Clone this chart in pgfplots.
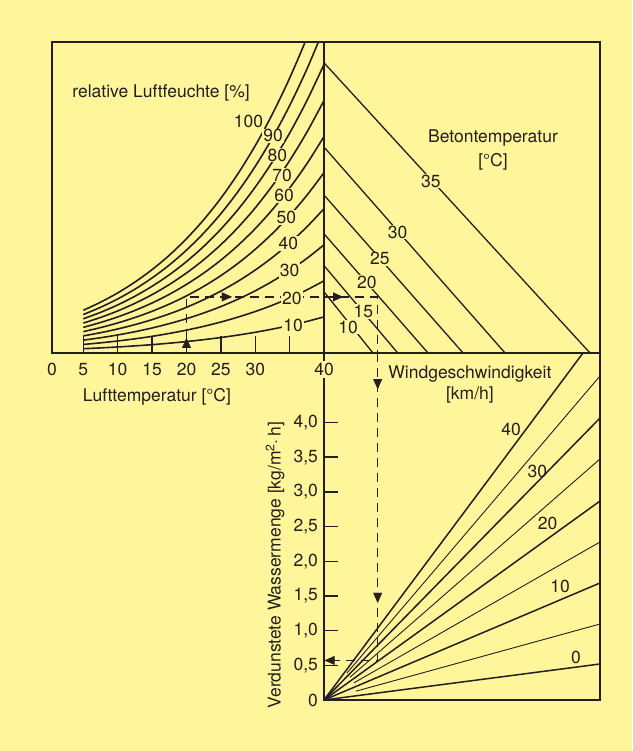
\documentclass[border=0pt]{standalone}
\usepackage{fontspec}
\setmainfont{TeX Gyre Heros}
\usepackage{pgfplots}
\usepackage{pgfplotstable}
\pgfplotsset{compat=1.18}
\usetikzlibrary{arrows.meta}

\definecolor{bg}{RGB}{255,245,155}
\definecolor{ink}{RGB}{35,31,32}

% vapour pressure of the air [hPa] along each humidity curve
\pgfplotstableread{
T     r10   r20   r30   r40   r50   r60   r70   r80   r90   r100
5     0.87  1.74  2.62  3.49  4.36  5.23  6.10  6.98  7.85  8.72
7.5   1.04  2.07  3.11  4.14  5.18  6.22  7.25  8.29  9.32  10.36
10    1.23  2.45  3.68  4.90  6.13  7.36  8.58  9.81  11.03 12.26
12.5  1.45  2.89  4.34  5.79  7.24  8.68  10.13 11.58 13.02 14.47
15    1.70  3.40  5.11  6.81  8.51  10.21 11.91 13.62 15.32 17.02
17.5  2.00  3.99  5.99  7.98  9.98  11.97 13.97 15.96 17.96 19.95
20    2.33  4.67  7.00  9.33  11.66 14.00 16.33 18.66 21.00 23.33
22.5  2.72  5.44  8.16  10.88 13.59 16.31 19.03 21.75 24.47 27.19
25    3.16  6.32  9.48  12.64 15.80 18.96 22.12 25.28 28.44 31.60
27.5  3.66  7.33  10.99 14.65 18.31 21.98 25.64 29.30 32.97 36.63
30    4.23  8.47  12.70 16.94 21.17 25.40 29.64 33.87 38.11 42.34
32.5  4.88  9.76  14.64 19.52 24.41 29.29 34.17 39.05 43.93 48.81
35    5.61  11.23 16.84 22.45 28.06 33.68 39.29 44.90 50.52 56.13
37.5  6.44  12.88 19.31 25.75 32.19 38.63 45.07 51.50 57.94 64.38
40    7.37  14.74 22.10 29.47 36.84 44.21 51.57 58.94 66.31 73.68
}\humid

\tikzset{
  hum/.style={ink, line width=1.6pt, smooth},
  beton/.style={ink, line width=1.3pt},
  wthick/.style={ink, line width=1.5pt},
  wthin/.style={ink, line width=0.9pt},
  dsh/.style={ink, line width=1.3pt, dash pattern=on 9pt off 6pt},
  arr/.style={ink, line width=0.1pt, -{Triangle[length=10pt,width=9pt]}},
  lbl/.style={fill=bg, inner sep=1pt},
}

\begin{document}
\fontsize{17.5}{21}\selectfont\color{ink}
\begin{tikzpicture}
\fill[bg] (0pt,0pt) rectangle (632pt,751pt);

% bottom right: evaporated water vs wind speed
\begin{axis}[
  at={(324pt,51pt)}, anchor=south west,
  width=276pt, height=347pt, scale only axis,
  xmin=40, xmax=80.1, ymin=0, ymax=5,
  axis line style={ink, line width=1.8pt},
  xtick=\empty,
  ytick={0,0.5,1,1.5,2,2.5,3,3.5,4},
  yticklabels={0,{0,5},{1,0},{1,5},{2,0},{2,5},{3,0},{3,5},{4,0}},
  ytick pos=left, tick align=inside,
  major tick length=14pt,
  major tick style={ink, line width=1.4pt},
  clip mode=individual,
]
\addplot[wthick] coordinates {(40,0) (80.1,0.519)};
\addplot[wthin]  coordinates {(44.64,0.127) (80.1,1.095)};
\addplot[wthick] coordinates {(40,0) (80.1,1.686)};
\addplot[wthin]  coordinates {(44.35,0.247) (80.1,2.277)};
\addplot[wthick] coordinates {(40,0) (80.1,2.867)};
\addplot[wthin]  coordinates {(43.76,0.326) (80.1,3.473)};
\addplot[wthick] coordinates {(40,0) (80.1,4.063)};
\addplot[wthin]  coordinates {(43.32,0.387) (80.1,4.669)};
\addplot[wthick] coordinates {(40,0) (77.63,5)};

\addplot[dsh] coordinates {(47.8,5) (47.8,0.57) (40,0.57)};
\addplot[arr] coordinates {(47.8,4.50) (47.8,4.48)};
\addplot[arr] coordinates {(47.8,1.42) (47.8,1.40)};
\addplot[arr] coordinates {(40.2,0.57) (40.1,0.57)};

\node at (axis cs:67.2,3.90) {40};
\node at (axis cs:71.0,3.29) {30};
\node at (axis cs:72.5,2.54) {20};
\node at (axis cs:74.3,1.63) {10};
\node at (axis cs:76.6,0.62) {0};
\node at (axis cs:61.2,4.697) {Windgeschwindigkeit};
\node at (axis cs:61.2,4.395) {[km/h]};
\node[rotate=90] at (axis cs:32.9,1.945) {Verdunstete Wassermenge [kg/m\textsuperscript{2}·\,h]};
\end{axis}

% top: air temperature / humidity and concrete temperature
\begin{axis}[
  at={(52pt,398pt)}, anchor=south west,
  width=548pt, height=311pt, scale only axis,
  xmin=0.45, xmax=80.1, ymin=0, ymax=63.47,
  axis line style={ink, line width=1.8pt},
  xtick={0.45,5,10,15,20,25,30,35,40},
  xticklabels={0,5,10,15,20,25,30,,40},
  xtick pos=left, tick align=inside,
  major tick length=17pt,
  major tick style={ink, line width=1.4pt},
  xticklabel style={fill=bg, inner sep=2pt, yshift=-8pt},
  ytick=\empty,
  clip mode=individual,
]
\addplot[hum] table[x=T, y=r10]  {\humid};
\addplot[hum] table[x=T, y=r20]  {\humid};
\addplot[hum] table[x=T, y=r30]  {\humid};
\addplot[hum] table[x=T, y=r40]  {\humid};
\addplot[hum] table[x=T, y=r50]  {\humid};
\addplot[hum] table[x=T, y=r60]  {\humid};
\addplot[hum] table[x=T, y=r70]  {\humid};
\addplot[hum] table[x=T, y=r80]  {\humid};
\addplot[hum] table[x=T, y=r90]  {\humid};
\addplot[hum] table[x=T, y=r100] {\humid};

\addplot[ink, line width=1.6pt] coordinates {(40,0) (40,63.47)};

\addplot[beton] coordinates {(40,59.2) (78.65,0)};
\addplot[beton] coordinates {(40,42.0) (66.3,0)};
\addplot[beton] coordinates {(40,32.2) (60.2,0)};
\addplot[beton] coordinates {(40,24.3) (55.1,0)};
\addplot[beton] coordinates {(40,17.8) (50.7,0)};
\addplot[beton] coordinates {(40,12.45) (47.1,0)};

\addplot[dsh] coordinates {(20,0) (20,11.45) (47.8,11.45) (47.8,0)};
\addplot[arr] coordinates {(20,3.00) (20,3.06)};
\addplot[arr] coordinates {(26.5,11.45) (26.6,11.45)};
\addplot[arr] coordinates {(42.65,11.45) (42.75,11.45)};

\node[lbl] at (axis cs:35.5,5.7)  {10};
\node[lbl] at (axis cs:35.3,11.2) {20};
\node[lbl] at (axis cs:35.0,16.9) {30};
\node[lbl] at (axis cs:34.8,22.4) {40};
\node[lbl] at (axis cs:34.5,27.6) {50};
\node[lbl] at (axis cs:34.2,32.2) {60};
\node[lbl] at (axis cs:33.9,36.3) {70};
\node[lbl] at (axis cs:33.2,40.4) {80};
\node[lbl] at (axis cs:32.6,44.3) {90};
\node[lbl] at (axis cs:29.0,47.3) {100};

\node[lbl] at (axis cs:55.5,35.1) {35};
\node[lbl] at (axis cs:50.7,24.7) {30};
\node[lbl] at (axis cs:48.1,19.2) {25};
\node[lbl] at (axis cs:46.2,14.5) {20};
\node[lbl] at (axis cs:45.7,8.4)  {15};
\node[lbl] at (axis cs:43.5,5.3)  {10};

\node at (axis cs:16.3,53.06) {relative Luftfeuchte [\%]};
\node at (axis cs:15.7,-8.98) {Lufttemperatur [°C]};
\node at (axis cs:64.55,43.88) {Betontemperatur};
\node at (axis cs:64.55,38.98) {[°C]};
\end{axis}

\pgfresetboundingbox
\useasboundingbox (0pt,0pt) rectangle (632pt,751pt);
\end{tikzpicture}
\end{document}
